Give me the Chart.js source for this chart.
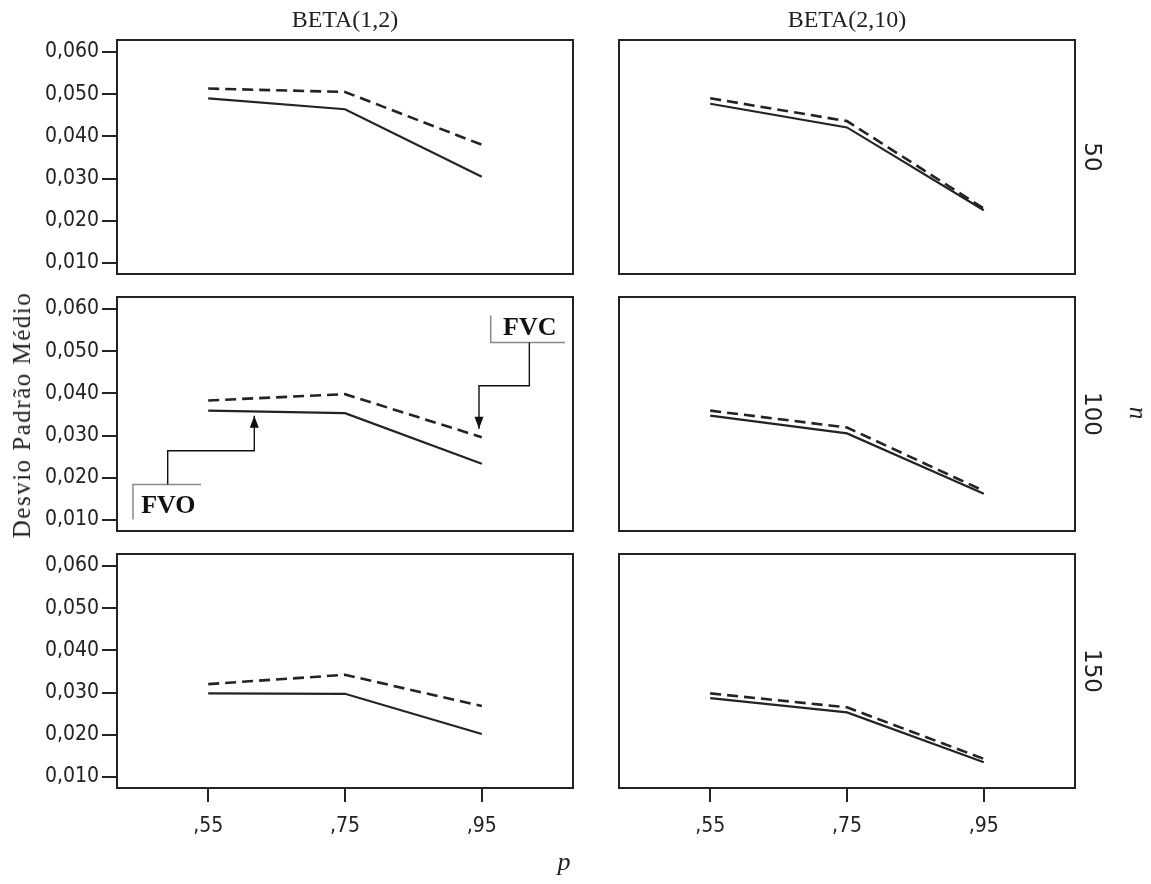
<!DOCTYPE html>
<html>
<head>
<meta charset="utf-8">
<script src="https://cdn.jsdelivr.net/npm/chart.js@4.4.1/dist/chart.umd.min.js"></script>
<style>
    body { margin: 0; background: #fff; }
    #grafico { position: relative; width: 1151px; height: 884px; overflow: hidden; }
    #grafico canvas { position: absolute; }
    .rotulo { position: absolute; white-space: nowrap; color: #222; transform-origin: center; }
    .serif { font-family: 'Liberation Serif', 'DejaVu Serif', serif; }
    .sans { font-family: 'DejaVu Sans', 'Liberation Sans', sans-serif; }
</style>
</head>
<body>
<div id="grafico"></div>
<script>
// valores de p (eixo x) e marcas do eixo y
const pValues = [0.55, 0.75, 0.95];
const yTicks = [0.010, 0.020, 0.030, 0.040, 0.050, 0.060];
const distribuicoes = ['BETA(1,2)', 'BETA(2,10)'];
const tamanhos = ['50', '100', '150'];

// desvio padrão médio: FVO (linha cheia) e FVC (tracejada)
const fvoB12n50 = [0.0490, 0.0464, 0.0304];
const fvcB12n50 = [0.0513, 0.0505, 0.0380];
const fvoB210n50 = [0.0477, 0.0421, 0.0225];
const fvcB210n50 = [0.0490, 0.0436, 0.0229];

const fvoB12n100 = [0.0359, 0.0353, 0.0233];
const fvcB12n100 = [0.0383, 0.0398, 0.0296];
const fvoB210n100 = [0.0347, 0.0305, 0.0162];
const fvcB210n100 = [0.0359, 0.0319, 0.0169];

const fvoB12n150 = [0.0298, 0.0297, 0.0202];
const fvcB12n150 = [0.0320, 0.0342, 0.0268];
const fvoB210n150 = [0.0287, 0.0253, 0.0135];
const fvcB210n150 = [0.0298, 0.0265, 0.0143];

const paineis = [
    { linha: 0, coluna: 0, fvo: fvoB12n50, fvc: fvcB12n50 },
    { linha: 0, coluna: 1, fvo: fvoB210n50, fvc: fvcB210n50 },
    { linha: 1, coluna: 0, fvo: fvoB12n100, fvc: fvcB12n100, notas: true },
    { linha: 1, coluna: 1, fvo: fvoB210n100, fvc: fvcB210n100 },
    { linha: 2, coluna: 0, fvo: fvoB12n150, fvc: fvcB12n150 },
    { linha: 2, coluna: 1, fvo: fvoB210n150, fvc: fvcB210n150 }
];

const tinta = '#232323';
const fonteEixo = "'DejaVu Sans Condensed', 'DejaVu Sans', sans-serif";

// posição das molduras
const molduraX = [117, 619];
const molduraY = [40, 297, 554];
const molduraL = 456, molduraA = 234;
const larguraEixoY = 117, alturaEixoX = 56;
const margem = 20, margemDir = 10;

// moldura em volta da área do gráfico
const moldura = {
    id: 'moldura',
    afterDatasetsDraw(chart) {
        const a = chart.chartArea, ctx = chart.ctx;
        ctx.save();
        ctx.strokeStyle = tinta;
        ctx.lineWidth = 2;
        ctx.strokeRect(a.left, a.top, a.right - a.left, a.bottom - a.top);
        ctx.restore();
    }
};

// chamadas FVO / FVC, em coordenadas dos dados (p, desvio)
const chamadas = [
    {
        texto: 'FVO', textoEm: [0.452, 0.0132],
        colchete: [[0.440, 0.0101], [0.440, 0.0184], [0.5395, 0.0184]],
        seta: [[0.4908, 0.0184], [0.4908, 0.0264], [0.6174, 0.0264], [0.6174, 0.0347]]
    },
    {
        texto: 'FVC', textoEm: [0.981, 0.0553],
        colchete: [[0.963, 0.0584], [0.963, 0.0520], [1.0716, 0.0520]],
        seta: [[1.0195, 0.0520], [1.0195, 0.0418], [0.9459, 0.0418], [0.9459, 0.0316]]
    }
];

const notasPlugin = {
    id: 'notas',
    afterDatasetsDraw(chart) {
        if (!chart.config.options.plugins.notas.mostrar) return;
        const ctx = chart.ctx, sx = chart.scales.x, sy = chart.scales.y;
        const px = p => [sx.getPixelForValue(p[0]), sy.getPixelForValue(p[1])];
        ctx.save();
        chamadas.forEach(c => {
            ctx.strokeStyle = '#8a8a8a';
            ctx.lineWidth = 1.5;
            ctx.beginPath();
            c.colchete.map(px).forEach((q, i) => i ? ctx.lineTo(q[0], q[1]) : ctx.moveTo(q[0], q[1]));
            ctx.stroke();

            const pts = c.seta.map(px);
            ctx.strokeStyle = '#111';
            ctx.lineWidth = 1.4;
            ctx.beginPath();
            pts.forEach((q, i) => i ? ctx.lineTo(q[0], q[1]) : ctx.moveTo(q[0], q[1]));
            ctx.stroke();

            // ponta da seta
            const fim = pts[pts.length - 1], ant = pts[pts.length - 2];
            const ang = Math.atan2(fim[1] - ant[1], fim[0] - ant[0]);
            ctx.fillStyle = '#111';
            ctx.beginPath();
            ctx.moveTo(fim[0], fim[1]);
            ctx.lineTo(fim[0] - 12 * Math.cos(ang) + 4.5 * Math.sin(ang), fim[1] - 12 * Math.sin(ang) - 4.5 * Math.cos(ang));
            ctx.lineTo(fim[0] - 12 * Math.cos(ang) - 4.5 * Math.sin(ang), fim[1] - 12 * Math.sin(ang) + 4.5 * Math.cos(ang));
            ctx.closePath();
            ctx.fill();

            const t = px(c.textoEm);
            ctx.font = "bold 26px 'Liberation Serif', 'DejaVu Serif', serif";
            ctx.textAlign = 'left';
            ctx.textBaseline = 'middle';
            ctx.fillText(c.texto, t[0], t[1]);
        });
        ctx.restore();
    }
};

const grafico = document.getElementById('grafico');

paineis.forEach(pn => {
    const comY = pn.coluna === 0;
    const comX = pn.linha === 2;
    const esq = comY ? larguraEixoY : margem;
    const canvas = document.createElement('canvas');
    canvas.width = esq + molduraL + margemDir;
    canvas.height = margem + molduraA + (comX ? alturaEixoX : 0) + margem;
    canvas.style.left = (molduraX[pn.coluna] - esq) + 'px';
    canvas.style.top = (molduraY[pn.linha] - margem) + 'px';
    grafico.appendChild(canvas);

    const serie = vals => pValues.map((p, i) => ({ x: p, y: vals[i] }));

    new Chart(canvas.getContext('2d'), {
        type: 'line',
        data: {
            datasets: [
                { label: 'FVO', data: serie(pn.fvo), borderColor: tinta, borderWidth: 2.2 },
                { label: 'FVC', data: serie(pn.fvc), borderColor: tinta, borderWidth: 2.6, borderDash: [11, 6] }
            ]
        },
        options: {
            responsive: false,
            animation: false,
            devicePixelRatio: 1,
            elements: { point: { radius: 0 }, line: { tension: 0 } },
            layout: { padding: { top: margem, right: margemDir, bottom: margem, left: comY ? 0 : margem } },
            plugins: {
                legend: { display: false },
                tooltip: { enabled: false },
                notas: { mostrar: !!pn.notas }
            },
            scales: {
                x: {
                    type: 'linear',
                    display: comX,
                    min: 0.55 - 0.4 / 3,
                    max: 0.95 + 0.4 / 3,
                    afterBuildTicks: s => { s.ticks = pValues.map(v => ({ value: v })); },
                    afterFit: s => { if (comX) s.height = alturaEixoX; },
                    border: { display: false },
                    grid: { drawOnChartArea: false, drawTicks: true, tickLength: 14, color: tinta, lineWidth: 2 },
                    ticks: {
                        padding: 12, maxRotation: 0, autoSkip: false, color: '#222',
                        font: { family: fonteEixo, size: 21 },
                        callback: v => ',' + Math.round(v * 100)
                    }
                },
                y: {
                    display: comY,
                    min: 0.0074,
                    max: 0.0628,
                    afterBuildTicks: s => { s.ticks = yTicks.map(v => ({ value: v })); },
                    afterFit: s => { if (comY) s.width = larguraEixoY; },
                    border: { display: false },
                    grid: { drawOnChartArea: false, drawTicks: true, tickLength: 15, color: tinta, lineWidth: 2 },
                    ticks: {
                        padding: 3, color: '#222',
                        font: { family: fonteEixo, size: 21 },
                        callback: v => v.toFixed(3).replace('.', ',')
                    }
                }
            }
        },
        plugins: [moldura, notasPlugin]
    });
});

// rótulos externos: títulos das colunas, n, p e eixo y
function rotulo(texto, cx, cy, classe, estilo, giro) {
    const d = document.createElement('div');
    d.className = 'rotulo ' + classe;
    d.textContent = texto;
    d.style.cssText += estilo;
    d.style.left = cx + 'px';
    d.style.top = cy + 'px';
    d.style.transform = 'translate(-50%, -50%)' + (giro ? ' rotate(' + giro + 'deg)' : '');
    grafico.appendChild(d);
}

distribuicoes.forEach((t, i) => rotulo(t, molduraX[i] + molduraL / 2, 19, 'serif', 'font-size:24px;', 0));
tamanhos.forEach((t, i) => rotulo(t, 1093, molduraY[i] + molduraA / 2, 'sans', 'font-size:23px;', 90));
rotulo('n', 1138, 413, 'serif', 'font-size:25px;font-style:italic;', 90);
rotulo('Desvio Padrão Médio', 22, 415, 'serif', 'font-size:25px;letter-spacing:1.5px;', -90);
rotulo('p', 564, 862, 'serif', 'font-size:26px;font-style:italic;', 0);
</script>
</body>
</html>
